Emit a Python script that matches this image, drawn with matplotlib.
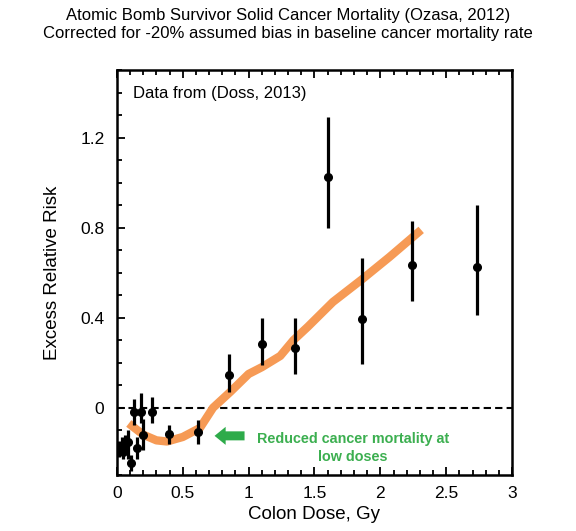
import matplotlib
matplotlib.use("Agg")
import matplotlib.pyplot as plt
from matplotlib.ticker import MultipleLocator
import numpy as np

plt.rcParams['font.family'] = ['Liberation Sans', 'DejaVu Sans']

# Data
dose = [0.018, 0.035, 0.048, 0.06, 0.086, 0.11, 0.13, 0.15, 0.18, 0.20, 0.27,
        0.395, 0.615, 0.853, 1.10, 1.354, 1.60, 1.86, 2.237, 2.73]
err = [-0.18, -0.17, -0.196, -0.166, -0.151, -0.247, -0.018, -0.18, -0.018, -0.12, -0.018,
       -0.118, -0.11, 0.145, 0.283, 0.264, 1.027, 0.396, 0.634, 0.627]
err_lo = [-0.22, -0.21, -0.23, -0.20, -0.23, -0.28, -0.077, -0.23, -0.07, -0.19, -0.07,
          -0.163, -0.159, 0.071, 0.19, 0.152, 0.80, 0.196, 0.474, 0.412]
err_hi = [-0.15, -0.13, -0.16, -0.12, -0.10, -0.21, 0.04, -0.13, 0.064, -0.05, 0.049,
          -0.077, -0.053, 0.237, 0.40, 0.397, 1.29, 0.667, 0.83, 0.90]

fit_x = [0.09, 0.2, 0.3, 0.38, 0.5, 0.63, 0.73, 0.86, 1.0, 1.1, 1.24, 1.34, 1.45, 1.64, 1.86, 2.07, 2.31]
fit_y = [-0.07, -0.12, -0.145, -0.15, -0.13, -0.09, 0.0, 0.07, 0.15, 0.18, 0.23, 0.30, 0.36, 0.47, 0.57, 0.67, 0.79]

title = "Atomic Bomb Survivor Solid Cancer Mortality (Ozasa, 2012)\nCorrected for -20% assumed bias in baseline cancer mortality rate"

fig = plt.figure(figsize=(5.76, 5.31), dpi=100)
ax = fig.add_axes([0.203, 0.105, 0.686, 0.763])

d = np.array(dose); e = np.array(err)
lo = e - np.array(err_lo); hi = np.array(err_hi) - e
ax.errorbar(d, e, yerr=[lo, hi], fmt='o', color='black', ms=5.5,
            elinewidth=2.3, capsize=0, zorder=3)
ax.plot(fit_x, fit_y, color='#F69A55', lw=6, solid_capstyle='butt', zorder=2)
ax.axhline(0, color='black', lw=1.5, ls=(0, (3.5, 2)), zorder=1)

ax.set_xlim(0, 3)
ax.set_ylim(-0.3, 1.5)
ax.xaxis.set_minor_locator(MultipleLocator(0.1))
ax.yaxis.set_minor_locator(MultipleLocator(0.1))
ax.set_xticks([0, 0.5, 1, 1.5, 2, 2.5, 3])
ax.set_xticklabels(['0', '0.5', '1', '1.5', '2', '2.5', '3'])
ax.set_yticks([0, 0.4, 0.8, 1.2])
ax.set_yticklabels(['0', '0.4', '0.8', '1.2'])
ax.tick_params(which='both', direction='in', top=True, right=False, labelsize=12.5, width=1.3)
ax.tick_params(which='major', length=6)
ax.tick_params(which='minor', length=3.5)
ax.tick_params(axis='x', pad=8)
ax.tick_params(axis='y', pad=9)
for s in ax.spines.values():
    s.set_linewidth(1.8)

ax.set_xlabel("Colon Dose, Gy", fontsize=13.5, labelpad=3)
ax.set_ylabel("Excess Relative Risk", fontsize=13.5, labelpad=14)
fig.suptitle(title, fontsize=12, y=0.985, linespacing=1.25)

ax.text(0.12, 1.395, "Data from (Doss, 2013)", fontsize=12, va='center', ha='left')
ax.annotate('', xy=(0.72, -0.125), xytext=(0.99, -0.125),
            arrowprops=dict(arrowstyle='simple,head_length=0.8,head_width=1.3,tail_width=0.65',
                            color='#2EAB4A', lw=0))
ax.text(1.79, -0.178, "Reduced cancer mortality at\nlow doses", color='#3CAF50',
        fontsize=10.4, fontweight='bold', ha='center', va='center', linespacing=1.4)

fig.savefig("out.png", dpi=100)
